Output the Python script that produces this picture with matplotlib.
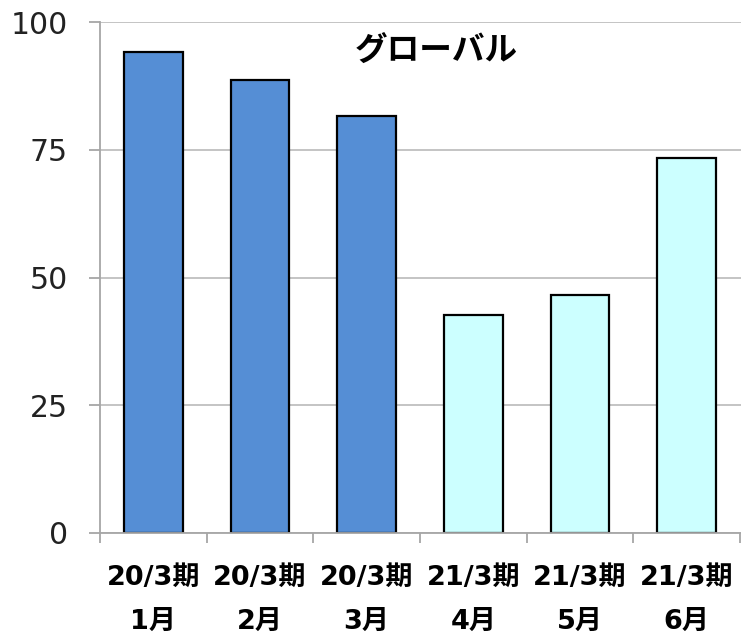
import numpy as np
import matplotlib
matplotlib.use('Agg')
import matplotlib.pyplot as plt

# Data
periods = ['20/3期', '20/3期', '20/3期', '21/3期', '21/3期', '21/3期']
months = ['1月', '2月', '3月', '4月', '5月', '6月']
values = [94.1, 88.6, 81.6, 42.7, 46.6, 73.4]
bar_colors = ['#558ED5', '#558ED5', '#558ED5', '#CCFFFF', '#CCFFFF', '#CCFFFF']
yticks = [0, 25, 50, 75, 100]
title = 'グローバル'

plt.rcParams['font.family'] = ['DejaVu Sans', 'Noto Sans CJK JP']

fig = plt.figure(figsize=(7.41, 6.35), dpi=100)
ax = fig.add_axes([100 / 741, 102 / 635, 641 / 741, 511 / 635])

x = np.arange(len(values))
ax.bar(x, values, width=0.55, color=bar_colors, edgecolor='black', linewidth=1.6, zorder=3)

ax.set_xlim(-0.5, len(values) - 0.5 + 0.01)
ax.set_ylim(0, 100)
ax.set_yticks(yticks)
ax.set_yticklabels([str(v) for v in yticks], fontsize=21.5, color='#222222')
ax.grid(axis='y', color='#BFBFBF', linewidth=1.3, zorder=0)

# category labels on major ticks, boundary ticks as minor ticks
ax.set_xticks(x)
ax.set_xticklabels([p + '\n' + m for p, m in zip(periods, months)],
                   fontsize=19.5, fontweight='bold', linespacing=1.9,
                   family=['DejaVu Sans', 'Noto Sans CJK JP'])
ax.set_xticks(np.arange(len(values) + 1) - 0.5, minor=True)
ax.tick_params(axis='x', which='major', length=0, pad=23)
ax.tick_params(axis='x', which='minor', length=7, color='#A6A6A6', width=1.3)
ax.tick_params(axis='y', length=8, color='#A6A6A6', width=1.3, pad=15)

for s in ['top', 'right']:
    ax.spines[s].set_visible(False)
for s in ['left', 'bottom']:
    ax.spines[s].set_color('#A6A6A6')
    ax.spines[s].set_linewidth(1.3)
    ax.spines[s].set_zorder(4)

fig.text(436 / 741, 1 - 51 / 635, title, fontsize=23.5, fontweight='bold',
         family=['Noto Sans CJK JP', 'DejaVu Sans'], ha='center', va='center')

plt.savefig('out.png', dpi=100)
